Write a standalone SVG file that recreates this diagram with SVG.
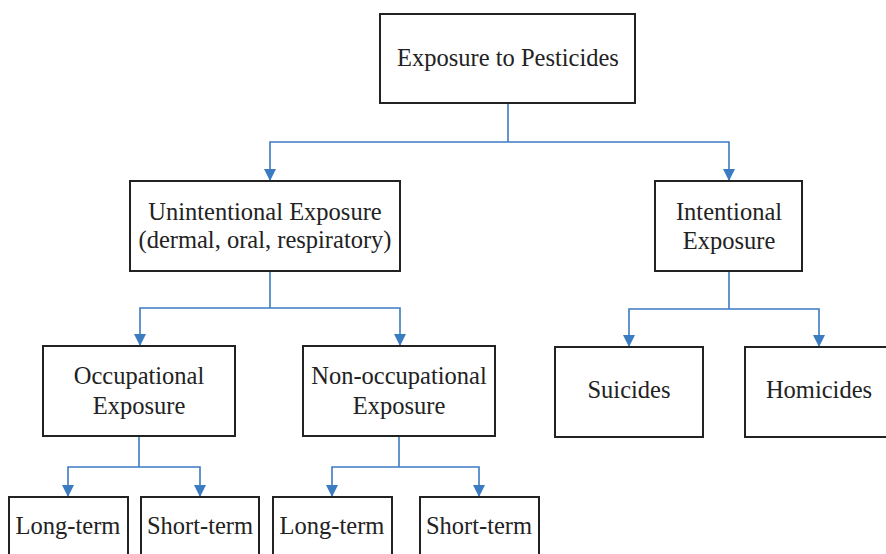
<svg xmlns="http://www.w3.org/2000/svg" width="886" height="554" viewBox="0 0 886 554">
<style>
.box{fill:#fff;stroke:#222;stroke-width:2}
.t{font-family:'Liberation Serif','Times New Roman',Times,'DejaVu Serif',serif;font-size:24.5px;fill:#222;text-anchor:middle}
.c{fill:none;stroke:#3b7bc2;stroke-width:1.6}
</style>
<defs>
<marker id="ah" viewBox="0 0 12 12" refX="12" refY="6" markerWidth="12" markerHeight="12" markerUnits="userSpaceOnUse" orient="auto">
<path d="M0,0 L12,6 L0,12 z" fill="#3b7bc2"/>
</marker>
</defs>
<rect width="886" height="554" fill="#fff"/>
<g id="connectors">
<path class="c" d="M508,103 V142"/>
<path class="c" d="M508,142 H270 V181" marker-end="url(#ah)"/>
<path class="c" d="M508,142 H729 V181" marker-end="url(#ah)"/>
<path class="c" d="M270,271 V308"/>
<path class="c" d="M270,308 H140 V346" marker-end="url(#ah)"/>
<path class="c" d="M270,308 H400 V346" marker-end="url(#ah)"/>
<path class="c" d="M729,271 V309"/>
<path class="c" d="M729,309 H629 V347" marker-end="url(#ah)"/>
<path class="c" d="M729,309 H819 V347" marker-end="url(#ah)"/>
<path class="c" d="M139,436 V467"/>
<path class="c" d="M139,467 H68 V497" marker-end="url(#ah)"/>
<path class="c" d="M139,467 H200 V497" marker-end="url(#ah)"/>
<path class="c" d="M399,436 V467"/>
<path class="c" d="M399,467 H332 V497" marker-end="url(#ah)"/>
<path class="c" d="M399,467 H479 V497" marker-end="url(#ah)"/>
</g>
<g id="root"><rect class="box" x="380" y="14" width="255" height="89"/><text class="t" x="508" y="66">Exposure to Pesticides</text></g>
<g id="unintentional"><rect class="box" x="130" y="181" width="270" height="90"/><text class="t" x="265" y="220">Unintentional Exposure</text><text class="t" x="265" y="248">(dermal, oral, respiratory)</text></g>
<g id="intentional"><rect class="box" x="655" y="181" width="147" height="90"/><text class="t" x="729" y="220">Intentional</text><text class="t" x="729" y="249">Exposure</text></g>
<g id="occupational"><rect class="box" x="43" y="346" width="192" height="90"/><text class="t" x="139" y="384">Occupational</text><text class="t" x="139" y="414">Exposure</text></g>
<g id="nonoccupational"><rect class="box" x="303" y="346" width="192" height="90"/><text class="t" x="399" y="384">Non-occupational</text><text class="t" x="399" y="414">Exposure</text></g>
<g id="suicides"><rect class="box" x="555" y="347" width="148" height="90"/><text class="t" x="629" y="398">Suicides</text></g>
<g id="homicides"><rect class="box" x="745" y="347" width="150" height="90"/><text class="t" x="819" y="398">Homicides</text></g>
<g id="occ-long"><rect class="box" x="9" y="497" width="119" height="70"/><text class="t" x="68" y="534">Long-term</text></g>
<g id="occ-short"><rect class="box" x="141" y="497" width="118" height="70"/><text class="t" x="200" y="534">Short-term</text></g>
<g id="non-long"><rect class="box" x="273" y="497" width="119" height="70"/><text class="t" x="332" y="534">Long-term</text></g>
<g id="non-short"><rect class="box" x="420" y="497" width="119" height="70"/><text class="t" x="479" y="534">Short-term</text></g>
</svg>
